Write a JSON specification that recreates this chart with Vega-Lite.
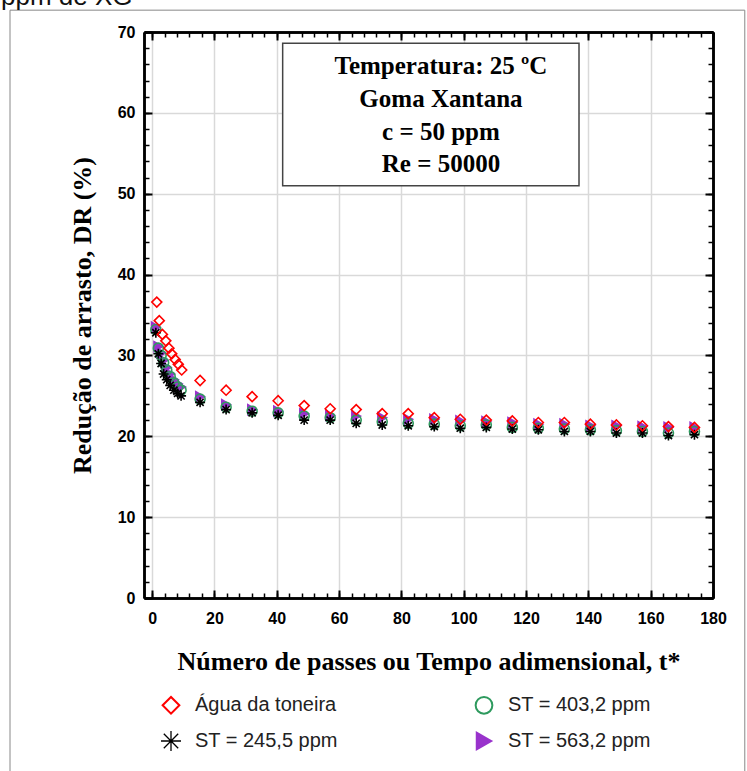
{
  "$schema": "https://vega.github.io/schema/vega-lite/v6.json",
  "autosize": {"type": "none"},
  "width": 569,
  "height": 566,
  "padding": {"left": 144, "top": 32, "right": 34, "bottom": 173},
  "background": "white",
  "title": {"text": "ppm de XG", "anchor": "start", "frame": "group", "orient": "top", "dx": -143, "offset": -21, "baseline": "alphabetic", "font": "Liberation Sans", "fontSize": 26, "fontWeight": "normal", "color": "#111"},
  "config": {
    "view": {"stroke": null},
    "axis": {"domainColor": "black", "domainWidth": 2.5, "tickColor": "black", "labelColor": "black", "titleColor": "black"}
  },
  "resolve": {"axis": {"x": "independent", "y": "independent"}},
  "datasets": {
    "pts": [
      {"s": "ST = 563,2 ppm", "t": 1.2, "dr": 33.5}, {"s": "ST = 563,2 ppm", "t": 2.0, "dr": 31.1}, {"s": "ST = 563,2 ppm", "t": 2.9, "dr": 30.3}, {"s": "ST = 563,2 ppm", "t": 3.7, "dr": 29.4}, {"s": "ST = 563,2 ppm", "t": 4.7, "dr": 28.5}, {"s": "ST = 563,2 ppm", "t": 5.8, "dr": 27.7}, {"s": "ST = 563,2 ppm", "t": 7.0, "dr": 27.0}, {"s": "ST = 563,2 ppm", "t": 8.2, "dr": 26.5}, {"s": "ST = 563,2 ppm", "t": 9.3, "dr": 26.1},
      {"s": "ST = 563,2 ppm", "t": 15.4, "dr": 24.9}, {"s": "ST = 563,2 ppm", "t": 23.75, "dr": 23.9}, {"s": "ST = 563,2 ppm", "t": 32.1, "dr": 23.3}, {"s": "ST = 563,2 ppm", "t": 40.45, "dr": 23.1}, {"s": "ST = 563,2 ppm", "t": 48.8, "dr": 22.8}, {"s": "ST = 563,2 ppm", "t": 57.15, "dr": 22.6}, {"s": "ST = 563,2 ppm", "t": 65.5, "dr": 22.5}, {"s": "ST = 563,2 ppm", "t": 73.85, "dr": 22.3}, {"s": "ST = 563,2 ppm", "t": 82.2, "dr": 22.1}, {"s": "ST = 563,2 ppm", "t": 90.55, "dr": 22.1}, {"s": "ST = 563,2 ppm", "t": 98.9, "dr": 21.9}, {"s": "ST = 563,2 ppm", "t": 107.25, "dr": 21.8}, {"s": "ST = 563,2 ppm", "t": 115.6, "dr": 21.7}, {"s": "ST = 563,2 ppm", "t": 123.95, "dr": 21.5}, {"s": "ST = 563,2 ppm", "t": 132.3, "dr": 21.5}, {"s": "ST = 563,2 ppm", "t": 140.65, "dr": 21.3}, {"s": "ST = 563,2 ppm", "t": 149.0, "dr": 21.3}, {"s": "ST = 563,2 ppm", "t": 157.35, "dr": 21.2}, {"s": "ST = 563,2 ppm", "t": 165.7, "dr": 21.1}, {"s": "ST = 563,2 ppm", "t": 174.05, "dr": 21.1},
      {"s": "ST = 403,2 ppm", "t": 1.2, "dr": 33.2}, {"s": "ST = 403,2 ppm", "t": 2.0, "dr": 30.9}, {"s": "ST = 403,2 ppm", "t": 2.9, "dr": 30.0}, {"s": "ST = 403,2 ppm", "t": 3.7, "dr": 29.1}, {"s": "ST = 403,2 ppm", "t": 4.7, "dr": 28.2}, {"s": "ST = 403,2 ppm", "t": 5.8, "dr": 27.4}, {"s": "ST = 403,2 ppm", "t": 7.0, "dr": 26.6}, {"s": "ST = 403,2 ppm", "t": 8.2, "dr": 26.1}, {"s": "ST = 403,2 ppm", "t": 9.3, "dr": 25.7},
      {"s": "ST = 403,2 ppm", "t": 15.4, "dr": 24.6}, {"s": "ST = 403,2 ppm", "t": 23.75, "dr": 23.6}, {"s": "ST = 403,2 ppm", "t": 32.1, "dr": 23.1}, {"s": "ST = 403,2 ppm", "t": 40.45, "dr": 22.9}, {"s": "ST = 403,2 ppm", "t": 48.8, "dr": 22.5}, {"s": "ST = 403,2 ppm", "t": 57.15, "dr": 22.3}, {"s": "ST = 403,2 ppm", "t": 65.5, "dr": 22.0}, {"s": "ST = 403,2 ppm", "t": 73.85, "dr": 21.8}, {"s": "ST = 403,2 ppm", "t": 82.2, "dr": 21.6}, {"s": "ST = 403,2 ppm", "t": 90.55, "dr": 21.5}, {"s": "ST = 403,2 ppm", "t": 98.9, "dr": 21.3}, {"s": "ST = 403,2 ppm", "t": 107.25, "dr": 21.4}, {"s": "ST = 403,2 ppm", "t": 115.6, "dr": 21.1}, {"s": "ST = 403,2 ppm", "t": 123.95, "dr": 21.0}, {"s": "ST = 403,2 ppm", "t": 132.3, "dr": 20.9}, {"s": "ST = 403,2 ppm", "t": 140.65, "dr": 20.8}, {"s": "ST = 403,2 ppm", "t": 149.0, "dr": 20.7}, {"s": "ST = 403,2 ppm", "t": 157.35, "dr": 20.6}, {"s": "ST = 403,2 ppm", "t": 165.7, "dr": 20.4}, {"s": "ST = 403,2 ppm", "t": 174.05, "dr": 20.6},
      {"s": "ST = 245,5 ppm", "t": 1.2, "dr": 32.8}, {"s": "ST = 245,5 ppm", "t": 2.0, "dr": 30.2}, {"s": "ST = 245,5 ppm", "t": 2.9, "dr": 29.0}, {"s": "ST = 245,5 ppm", "t": 3.7, "dr": 27.7}, {"s": "ST = 245,5 ppm", "t": 4.7, "dr": 27.0}, {"s": "ST = 245,5 ppm", "t": 5.8, "dr": 26.3}, {"s": "ST = 245,5 ppm", "t": 7.0, "dr": 25.7}, {"s": "ST = 245,5 ppm", "t": 8.2, "dr": 25.3}, {"s": "ST = 245,5 ppm", "t": 9.3, "dr": 25.0},
      {"s": "ST = 245,5 ppm", "t": 15.4, "dr": 24.2}, {"s": "ST = 245,5 ppm", "t": 23.75, "dr": 23.3}, {"s": "ST = 245,5 ppm", "t": 32.1, "dr": 22.9}, {"s": "ST = 245,5 ppm", "t": 40.45, "dr": 22.6}, {"s": "ST = 245,5 ppm", "t": 48.8, "dr": 22.0}, {"s": "ST = 245,5 ppm", "t": 57.15, "dr": 22.0}, {"s": "ST = 245,5 ppm", "t": 65.5, "dr": 21.6}, {"s": "ST = 245,5 ppm", "t": 73.85, "dr": 21.4}, {"s": "ST = 245,5 ppm", "t": 82.2, "dr": 21.3}, {"s": "ST = 245,5 ppm", "t": 90.55, "dr": 21.2}, {"s": "ST = 245,5 ppm", "t": 98.9, "dr": 21.0}, {"s": "ST = 245,5 ppm", "t": 107.25, "dr": 21.1}, {"s": "ST = 245,5 ppm", "t": 115.6, "dr": 20.9}, {"s": "ST = 245,5 ppm", "t": 123.95, "dr": 20.8}, {"s": "ST = 245,5 ppm", "t": 132.3, "dr": 20.6}, {"s": "ST = 245,5 ppm", "t": 140.65, "dr": 20.6}, {"s": "ST = 245,5 ppm", "t": 149.0, "dr": 20.4}, {"s": "ST = 245,5 ppm", "t": 157.35, "dr": 20.4}, {"s": "ST = 245,5 ppm", "t": 165.7, "dr": 20.1}, {"s": "ST = 245,5 ppm", "t": 174.05, "dr": 20.2},
      {"s": "Água da toneira", "t": 1.5, "dr": 36.6}, {"s": "Água da toneira", "t": 2.3, "dr": 34.3}, {"s": "Água da toneira", "t": 3.3, "dr": 32.6}, {"s": "Água da toneira", "t": 4.4, "dr": 31.8}, {"s": "Água da toneira", "t": 5.4, "dr": 30.9}, {"s": "Água da toneira", "t": 6.3, "dr": 30.2}, {"s": "Água da toneira", "t": 7.4, "dr": 29.5}, {"s": "Água da toneira", "t": 8.4, "dr": 28.9}, {"s": "Água da toneira", "t": 9.5, "dr": 28.2},
      {"s": "Água da toneira", "t": 15.4, "dr": 26.9}, {"s": "Água da toneira", "t": 23.75, "dr": 25.7}, {"s": "Água da toneira", "t": 32.1, "dr": 24.9}, {"s": "Água da toneira", "t": 40.45, "dr": 24.4}, {"s": "Água da toneira", "t": 48.8, "dr": 23.8}, {"s": "Água da toneira", "t": 57.15, "dr": 23.4}, {"s": "Água da toneira", "t": 65.5, "dr": 23.3}, {"s": "Água da toneira", "t": 73.85, "dr": 22.8}, {"s": "Água da toneira", "t": 82.2, "dr": 22.8}, {"s": "Água da toneira", "t": 90.55, "dr": 22.3}, {"s": "Água da toneira", "t": 98.9, "dr": 22.1}, {"s": "Água da toneira", "t": 107.25, "dr": 22.0}, {"s": "Água da toneira", "t": 115.6, "dr": 21.9}, {"s": "Água da toneira", "t": 123.95, "dr": 21.7}, {"s": "Água da toneira", "t": 132.3, "dr": 21.7}, {"s": "Água da toneira", "t": 140.65, "dr": 21.5}, {"s": "Água da toneira", "t": 149.0, "dr": 21.4}, {"s": "Água da toneira", "t": 157.35, "dr": 21.3}, {"s": "Água da toneira", "t": 165.7, "dr": 21.2}, {"s": "Água da toneira", "t": 174.05, "dr": 21.1}
    ],
    "box": [{"x1": 41.9, "x2": 137.0, "y1": 51.0, "y2": 68.6}],
    "frame": [{"x1": -45.6, "x2": 190.2, "y1": -30, "y2": 72.7}],
    "lines": [
      {"label": "Temperatura: 25 ºC", "tx": 92.7, "ty": 65.8},
      {"label": "Goma Xantana", "tx": 92.7, "ty": 61.7},
      {"label": "c = 50 ppm", "tx": 92.7, "ty": 57.6},
      {"label": "Re = 50000", "tx": 92.7, "ty": 53.7}
    ]
  },
  "layer": [
    {
      "data": {"name": "frame"},
      "mark": {"type": "rect", "fill": null, "stroke": "#888888", "strokeWidth": 1},
      "encoding": {
        "x": {"field": "x1", "type": "quantitative", "scale": {"domain": [-2.6, 180], "nice": false, "zero": false},
          "axis": {"orient": "bottom", "values": [0, 20, 40, 60, 80, 100, 120, 140, 160, 180], "grid": true, "gridColor": "#d9d9d9", "gridWidth": 1.5, "tickSize": -8, "tickWidth": 2, "labelFont": "Liberation Sans", "labelFontWeight": "bold", "labelFontSize": 16, "labelPadding": 20, "labelFlush": false,
            "title": "Número de passes ou Tempo adimensional, t*", "titleFont": "Liberation Serif", "titleFontSize": 26, "titleFontWeight": "bold", "titlePadding": 22}},
        "x2": {"field": "x2"},
        "y": {"field": "y1", "type": "quantitative", "scale": {"domain": [0, 70], "nice": false, "zero": false},
          "axis": {"orient": "left", "values": [0, 10, 20, 30, 40, 50, 60, 70], "grid": true, "gridColor": "#d9d9d9", "gridWidth": 1.5, "tickSize": -8, "tickWidth": 2, "labelFont": "Liberation Sans", "labelFontWeight": "bold", "labelFontSize": 16, "labelPadding": 17, "labelFlush": false,
            "title": "Redução de arrasto, DR (%)", "titleFont": "Liberation Serif", "titleFontSize": 26, "titleFontWeight": "bold", "titlePadding": 22}},
        "y2": {"field": "y2"}
      }
    },
    {
      "data": {"name": "box"},
      "mark": {"type": "rect", "fill": "white", "stroke": "#444444", "strokeWidth": 1.5},
      "encoding": {
        "x": {"field": "x1", "type": "quantitative", "scale": {"domain": [-2.6, 180], "nice": false, "zero": false},
          "axis": {"orient": "bottom", "values": [0,4,8,12,16,20,24,28,32,36,40,44,48,52,56,60,64,68,72,76,80,84,88,92,96,100,104,108,112,116,120,124,128,132,136,140,144,148,152,156,160,164,168,172,176,180], "grid": false, "labels": false, "tickSize": -5, "tickWidth": 1.5, "title": null}},
        "x2": {"field": "x2"},
        "y": {"field": "y1", "type": "quantitative", "scale": {"domain": [0, 70], "nice": false, "zero": false},
          "axis": {"orient": "left", "values": [0,2,4,6,8,10,12,14,16,18,20,22,24,26,28,30,32,34,36,38,40,42,44,46,48,50,52,54,56,58,60,62,64,66,68,70], "grid": false, "labels": false, "tickSize": -5, "tickWidth": 1.5, "title": null}},
        "y2": {"field": "y2"}
      }
    },
    {
      "data": {"name": "lines"},
      "mark": {"type": "text", "font": "Liberation Serif", "fontWeight": "bold", "fontSize": 25, "align": "center", "baseline": "middle", "color": "black"},
      "encoding": {
        "x": {"field": "tx", "type": "quantitative", "scale": {"domain": [-2.6, 180], "nice": false, "zero": false},
          "axis": {"orient": "top", "values": [0, 20, 40, 60, 80, 100, 120, 140, 160, 180], "grid": false, "labels": false, "tickSize": -8, "tickWidth": 2, "title": null}},
        "y": {"field": "ty", "type": "quantitative", "scale": {"domain": [0, 70], "nice": false, "zero": false},
          "axis": {"orient": "right", "values": [0, 10, 20, 30, 40, 50, 60, 70], "grid": false, "labels": false, "tickSize": -8, "tickWidth": 2, "title": null}},
        "text": {"field": "label"}
      }
    },
    {
      "data": {"name": "pts"},
      "mark": {"type": "point", "filled": false, "size": 100, "strokeWidth": 1.6, "opacity": 1},
      "encoding": {
        "x": {"field": "t", "type": "quantitative", "scale": {"domain": [-2.6, 180], "nice": false, "zero": false},
          "axis": {"orient": "top", "values": [0,4,8,12,16,20,24,28,32,36,40,44,48,52,56,60,64,68,72,76,80,84,88,92,96,100,104,108,112,116,120,124,128,132,136,140,144,148,152,156,160,164,168,172,176,180], "grid": false, "labels": false, "tickSize": -5, "tickWidth": 1.5, "title": null}},
        "y": {"field": "dr", "type": "quantitative", "scale": {"domain": [0, 70], "nice": false, "zero": false},
          "axis": {"orient": "right", "values": [0,2,4,6,8,10,12,14,16,18,20,22,24,26,28,30,32,34,36,38,40,42,44,46,48,50,52,54,56,58,60,62,64,66,68,70], "grid": false, "labels": false, "tickSize": -5, "tickWidth": 1.5, "title": null}},
        "color": {"field": "s", "type": "nominal",
          "scale": {"domain": ["Água da toneira", "ST = 245,5 ppm", "ST = 403,2 ppm", "ST = 563,2 ppm"], "range": ["#ff0000", "#000000", "#2e9a5e", "#9933cc"]},
          "legend": {"orient": "none", "legendX": 17, "legendY": 663, "columns": 2, "columnPadding": 133, "rowPadding": 10, "title": null, "symbolSize": 280, "symbolStrokeWidth": 2, "labelFont": "Liberation Sans", "labelFontSize": 20, "labelColor": "#222222", "labelOffset": 14, "symbolOpacity": 1,
            "encode": {"symbols": {"update": {"strokeWidth": {"signal": "datum.value === 'ST = 245,5 ppm' ? 1.3 : 2"}, "size": {"signal": "datum.value === 'ST = 245,5 ppm' ? 400 : 280"}}}}}},
        "fill": {"field": "s", "type": "nominal",
          "scale": {"domain": ["Água da toneira", "ST = 245,5 ppm", "ST = 403,2 ppm", "ST = 563,2 ppm"], "range": ["transparent", "transparent", "transparent", "#9933cc"]},
          "legend": {"orient": "none", "legendX": 17, "legendY": 663, "columns": 2, "columnPadding": 133, "rowPadding": 10, "title": null, "symbolSize": 280, "symbolStrokeWidth": 2, "labelFont": "Liberation Sans", "labelFontSize": 20, "labelColor": "#222222", "labelOffset": 14, "symbolOpacity": 1,
            "encode": {"symbols": {"update": {"strokeWidth": {"signal": "datum.value === 'ST = 245,5 ppm' ? 1.3 : 2"}, "size": {"signal": "datum.value === 'ST = 245,5 ppm' ? 400 : 280"}}}}}},
        "shape": {"field": "s", "type": "nominal",
          "scale": {"domain": ["Água da toneira", "ST = 245,5 ppm", "ST = 403,2 ppm", "ST = 563,2 ppm"], "range": ["diamond", "M-1,0L1,0M0,-1L0,1M-0.72,-0.72L0.72,0.72M-0.72,0.72L0.72,-0.72", "circle", "triangle-right"]},
          "legend": {"orient": "none", "legendX": 17, "legendY": 663, "columns": 2, "columnPadding": 133, "rowPadding": 10, "title": null, "symbolSize": 280, "symbolStrokeWidth": 2, "labelFont": "Liberation Sans", "labelFontSize": 20, "labelColor": "#222222", "labelOffset": 14, "symbolOpacity": 1,
            "encode": {"symbols": {"update": {"strokeWidth": {"signal": "datum.value === 'ST = 245,5 ppm' ? 1.3 : 2"}, "size": {"signal": "datum.value === 'ST = 245,5 ppm' ? 400 : 280"}}}}}}
      }
    }
  ]
}
